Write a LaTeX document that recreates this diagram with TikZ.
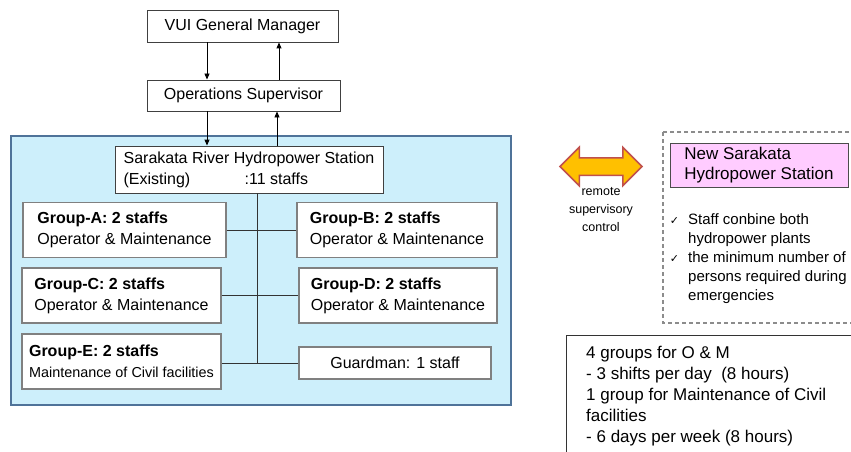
\documentclass[tikz,border=0pt]{standalone}
\usepackage{fontspec}
\setmainfont{Liberation Sans}
\newfontfamily\chkfont{DejaVu Sans}
\usepackage{xcolor}
\usetikzlibrary{arrows.meta,shapes.arrows}

\definecolor{plantfill}{HTML}{CDEFFB}
\definecolor{plantline}{HTML}{4F7399}
\definecolor{newfill}{HTML}{FFCCFF}
\definecolor{linkfill}{HTML}{FFC000}
\definecolor{linkline}{HTML}{C0504D}

\begin{document}
\begin{tikzpicture}[x=1pt,y=-1pt,
    every node/.style={font=\fontsize{16}{21}\selectfont},
    box/.style={draw=black!75, line width=0.9pt, fill=white, align=left},
    grp/.style={draw=black!50, line width=1.1pt, fill=white, align=left, minimum height=55},
    link/.style={-{Triangle[length=6pt,width=5pt]}, line width=0.9pt},
    bus/.style={line width=1pt, black!80}]
  \clip (0,0) rectangle (851,452);
  \fill[white] (0,0) rectangle (851,452);

  % management
  \node[box, minimum width=191, minimum height=32] (gm) at (242.5,26) {VUI General Manager};
  \node[box, minimum width=193, minimum height=31] (os) at (243.5,95.5) {Operations Supervisor};

  % existing plant
  \node[draw=plantline, line width=1.3pt, fill=plantfill, minimum width=500, minimum height=269] (plant) at (261,270.5) {};
  \node[box, minimum width=268, minimum height=47] (st) at (249,169.5)
       {Sarakata River Hydropower Station\\\makebox[121pt][l]{(Existing)}:11 staffs};

  \draw[link] (207,0 |- gm.south) -- (207,0 |- os.north);
  \draw[link] (279,0 |- os.north) -- (279,0 |- gm.south);
  \draw[link] (207,0 |- os.south) -- (207,0 |- st.north);
  \draw[link] (277,0 |- st.north) -- (277,0 |- os.south);

  \node[grp, minimum width=203] (ga) at (124.5,230) {\textbf{Group-A: 2 staffs}\\Operator \& Maintenance};
  \node[grp, minimum width=200] (gb) at (397,230) {\textbf{Group-B: 2 staffs}\\Operator \& Maintenance};
  \node[grp, minimum width=199] (gc) at (121.5,295.5) {\textbf{Group-C: 2 staffs}\\Operator \& Maintenance};
  \node[grp, minimum width=198] (gd) at (398,295.5) {\textbf{Group-D: 2 staffs}\\Operator \& Maintenance};
  \node[grp, minimum width=199] (ge) at (121.5,361.5)
       {\textbf{Group-E: 2 staffs}\\{\fontsize{14.4}{21}\selectfont Maintenance of Civil facilities}};
  \node[grp, minimum width=192, minimum height=32] (guard) at (395,363) {Guardman: 1 staff};

  \coordinate (spine) at (257,363);
  \draw[bus] (spine |- st.south) -- (spine);
  \draw[bus] (ga) -- (gb);
  \draw[bus] (gc) -- (gd);
  \draw[bus] (guard.west) -- (guard.west -| ge.east);

  % remote control
  \node[double arrow, draw=linkline, fill=linkfill, line width=1.5pt, inner sep=0pt, inner ysep=8pt,
        minimum height=82, minimum width=37, double arrow head extend=10.5] (rsc) at (601,166.5) {};
  \node[font=\fontsize{12.5}{18}\selectfont, align=center, below=8pt] (rsclbl) at (rsc.south) {remote\\supervisory\\control};

  % new plant
  \draw[black!45, line width=1.4pt, dash pattern=on 4pt off 3pt] (663,132) rectangle (880,323);
  \node[box, draw=black!70, fill=newfill, minimum width=178, minimum height=44,
        font=\fontsize{17}{20}\selectfont] (new) at (759,165) {New Sarakata\\Hydropower Station};
  \node[align=left, anchor=north west, inner sep=0pt, font=\fontsize{15}{19}\selectfont] (notes) at (688,213)
       {\llap{{\chkfont\fontsize{11}{19}\selectfont ✓}\hspace{9pt}}Staff conbine both\\
        hydropower plants\\
        \llap{{\chkfont\fontsize{11}{19}\selectfont ✓}\hspace{9pt}}the minimum number of\\
        persons required during\\
        emergencies};

  % shift plan
  \node[draw=black!80, line width=1pt, minimum width=304, minimum height=135, anchor=north west] (plan) at (566,335) {};
  \node[align=left, anchor=north west, inner sep=0pt, font=\fontsize{17}{21}\selectfont] (plantxt) at (586,346)
       {4 groups for O \& M\\
        - 3 shifts per day~~(8 hours)\\
        1 group for Maintenance of Civil\\
        facilities\\
        - 6 days per week (8 hours)};
\end{tikzpicture}
\end{document}
